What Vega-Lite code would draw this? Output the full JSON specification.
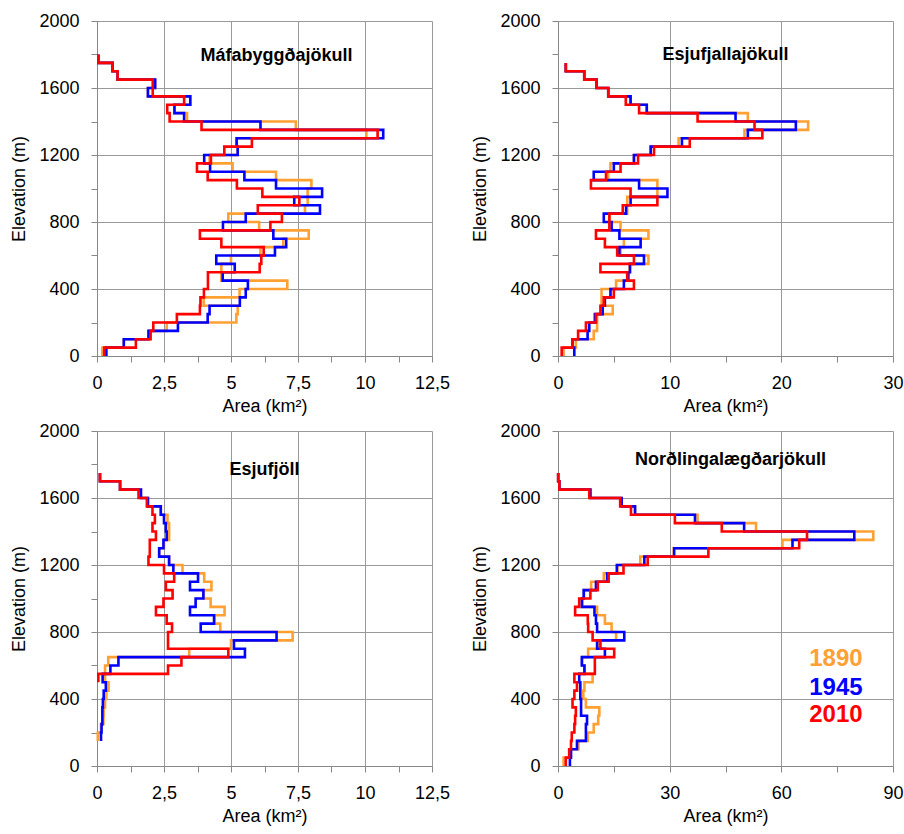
{
  "$schema": "https://vega.github.io/schema/vega-lite/v6.json",
  "padding": {"left": 10, "top": 12, "right": 5, "bottom": 5},
  "background": "white",
  "config": {
    "font": "Liberation Sans",
    "view": {"stroke": null},
    "axis": {"labelFontSize": 18, "titleFontSize": 18, "titleFontWeight": "normal", "labelColor": "#000", "titleColor": "#000", "gridColor": "#999", "domainColor": "#888", "tickColor": "#888", "tickSize": 6, "labelOverlap": false, "labelFlush": false},
    "axisX": {"labelPadding": 12, "titlePadding": 5, "titleFontWeight": "normal"},
    "axisY": {"labelPadding": 12, "titlePadding": 10},
    "title": {"fontSize": 18, "color": "#000", "anchor": "middle", "offset": 0},
    "line": {"strokeWidth": 2.6, "interpolate": "step-before"}
  },
  "datasets": {
    "mafa": [
      {"year":"1890","elev":0,"area":0.2},{"year":"1890","elev":50,"area":1.0},{"year":"1890","elev":100,"area":1.95},{"year":"1890","elev":150,"area":2.6},{"year":"1890","elev":200,"area":5.2},{"year":"1890","elev":250,"area":5.25},{"year":"1890","elev":300,"area":3.98},{"year":"1890","elev":350,"area":5.32},{"year":"1890","elev":400,"area":7.1},{"year":"1890","elev":450,"area":4.64},{"year":"1890","elev":500,"area":4.64},{"year":"1890","elev":550,"area":5.0},{"year":"1890","elev":600,"area":6.1},{"year":"1890","elev":650,"area":6.95},{"year":"1890","elev":700,"area":7.9},{"year":"1890","elev":750,"area":6.05},{"year":"1890","elev":800,"area":4.9},{"year":"1890","elev":850,"area":7.76},{"year":"1890","elev":900,"area":7.86},{"year":"1890","elev":950,"area":7.86},{"year":"1890","elev":1000,"area":8.0},{"year":"1890","elev":1050,"area":6.68},{"year":"1890","elev":1100,"area":5.06},{"year":"1890","elev":1150,"area":4.2},{"year":"1890","elev":1200,"area":5.25},{"year":"1890","elev":1250,"area":5.21},{"year":"1890","elev":1300,"area":10.05},{"year":"1890","elev":1350,"area":7.42},{"year":"1890","elev":1400,"area":3.36},{"year":"1890","elev":1450,"area":2.89},{"year":"1890","elev":1500,"area":3.48},{"year":"1890","elev":1550,"area":1.9},{"year":"1890","elev":1600,"area":2.17},{"year":"1890","elev":1650,"area":0.77},{"year":"1890","elev":1700,"area":0.58},{"year":"1890","elev":1750,"area":0.05},{"year":"1890","elev":1800,"area":0.05},
      {"year":"1945","elev":0,"area":0.35},{"year":"1945","elev":50,"area":1.0},{"year":"1945","elev":100,"area":1.92},{"year":"1945","elev":150,"area":3.02},{"year":"1945","elev":200,"area":4.13},{"year":"1945","elev":250,"area":4.2},{"year":"1945","elev":300,"area":5.33},{"year":"1945","elev":350,"area":5.55},{"year":"1945","elev":400,"area":5.63},{"year":"1945","elev":450,"area":4.69},{"year":"1945","elev":500,"area":5.14},{"year":"1945","elev":550,"area":4.45},{"year":"1945","elev":600,"area":6.64},{"year":"1945","elev":650,"area":7.06},{"year":"1945","elev":700,"area":6.58},{"year":"1945","elev":750,"area":4.7},{"year":"1945","elev":800,"area":5.55},{"year":"1945","elev":850,"area":8.32},{"year":"1945","elev":900,"area":7.36},{"year":"1945","elev":950,"area":8.4},{"year":"1945","elev":1000,"area":6.68},{"year":"1945","elev":1050,"area":5.5},{"year":"1945","elev":1100,"area":4.22},{"year":"1945","elev":1150,"area":4.0},{"year":"1945","elev":1200,"area":5.25},{"year":"1945","elev":1250,"area":5.21},{"year":"1945","elev":1300,"area":10.68},{"year":"1945","elev":1350,"area":6.1},{"year":"1945","elev":1400,"area":3.25},{"year":"1945","elev":1450,"area":2.89},{"year":"1945","elev":1500,"area":3.48},{"year":"1945","elev":1550,"area":1.9},{"year":"1945","elev":1600,"area":2.17},{"year":"1945","elev":1650,"area":0.77},{"year":"1945","elev":1700,"area":0.58},{"year":"1945","elev":1750,"area":0.05},{"year":"1945","elev":1800,"area":0.05},
      {"year":"2010","elev":0,"area":0.27},{"year":"2010","elev":50,"area":1.45},{"year":"2010","elev":100,"area":2.0},{"year":"2010","elev":150,"area":2.1},{"year":"2010","elev":200,"area":2.98},{"year":"2010","elev":250,"area":3.84},{"year":"2010","elev":300,"area":3.86},{"year":"2010","elev":350,"area":3.99},{"year":"2010","elev":400,"area":4.14},{"year":"2010","elev":450,"area":4.14},{"year":"2010","elev":500,"area":6.07},{"year":"2010","elev":550,"area":6.13},{"year":"2010","elev":600,"area":6.22},{"year":"2010","elev":650,"area":4.64},{"year":"2010","elev":700,"area":3.84},{"year":"2010","elev":750,"area":6.47},{"year":"2010","elev":800,"area":6.9},{"year":"2010","elev":850,"area":6.0},{"year":"2010","elev":900,"area":7.55},{"year":"2010","elev":950,"area":6.17},{"year":"2010","elev":1000,"area":5.22},{"year":"2010","elev":1050,"area":4.13},{"year":"2010","elev":1100,"area":3.73},{"year":"2010","elev":1150,"area":4.25},{"year":"2010","elev":1200,"area":4.75},{"year":"2010","elev":1250,"area":5.78},{"year":"2010","elev":1300,"area":10.47},{"year":"2010","elev":1350,"area":3.9},{"year":"2010","elev":1400,"area":2.71},{"year":"2010","elev":1450,"area":2.62},{"year":"2010","elev":1500,"area":3.25},{"year":"2010","elev":1550,"area":2.08},{"year":"2010","elev":1600,"area":2.08},{"year":"2010","elev":1650,"area":0.77},{"year":"2010","elev":1700,"area":0.58},{"year":"2010","elev":1750,"area":0.05},{"year":"2010","elev":1800,"area":0.05}
    ],
    "esjuj": [
      {"year":"1890","elev":0,"area":0.5},{"year":"1890","elev":50,"area":1.6},{"year":"1890","elev":100,"area":3.2},{"year":"1890","elev":150,"area":3.5},{"year":"1890","elev":200,"area":3.5},{"year":"1890","elev":250,"area":4.9},{"year":"1890","elev":300,"area":3.9},{"year":"1890","elev":350,"area":3.9},{"year":"1890","elev":400,"area":5.2},{"year":"1890","elev":450,"area":6.2},{"year":"1890","elev":500,"area":6.4},{"year":"1890","elev":550,"area":8.1},{"year":"1890","elev":600,"area":5.6},{"year":"1890","elev":650,"area":5.9},{"year":"1890","elev":700,"area":8.1},{"year":"1890","elev":750,"area":5.6},{"year":"1890","elev":800,"area":4.6},{"year":"1890","elev":850,"area":6.2},{"year":"1890","elev":900,"area":6.2},{"year":"1890","elev":950,"area":8.9},{"year":"1890","elev":1000,"area":8.9},{"year":"1890","elev":1050,"area":4.5},{"year":"1890","elev":1100,"area":4.7},{"year":"1890","elev":1150,"area":6.8},{"year":"1890","elev":1200,"area":8.3},{"year":"1890","elev":1250,"area":10.8},{"year":"1890","elev":1300,"area":16.7},{"year":"1890","elev":1350,"area":22.4},{"year":"1890","elev":1400,"area":17.0},{"year":"1890","elev":1450,"area":7.95},{"year":"1890","elev":1500,"area":6.5},{"year":"1890","elev":1550,"area":4.5},{"year":"1890","elev":1600,"area":3.45},{"year":"1890","elev":1650,"area":2.35},{"year":"1890","elev":1700,"area":0.7},{"year":"1890","elev":1750,"area":0.7},
      {"year":"1945","elev":0,"area":1.46},{"year":"1945","elev":50,"area":1.3},{"year":"1945","elev":100,"area":2.65},{"year":"1945","elev":150,"area":2.8},{"year":"1945","elev":200,"area":3.3},{"year":"1945","elev":250,"area":4.0},{"year":"1945","elev":300,"area":4.2},{"year":"1945","elev":350,"area":4.7},{"year":"1945","elev":400,"area":5.9},{"year":"1945","elev":450,"area":6.3},{"year":"1945","elev":500,"area":6.45},{"year":"1945","elev":550,"area":7.7},{"year":"1945","elev":600,"area":5.5},{"year":"1945","elev":650,"area":7.4},{"year":"1945","elev":700,"area":5.5},{"year":"1945","elev":750,"area":4.8},{"year":"1945","elev":800,"area":4.1},{"year":"1945","elev":850,"area":6.1},{"year":"1945","elev":900,"area":6.5},{"year":"1945","elev":950,"area":9.8},{"year":"1945","elev":1000,"area":7.26},{"year":"1945","elev":1050,"area":3.2},{"year":"1945","elev":1100,"area":5.0},{"year":"1945","elev":1150,"area":6.8},{"year":"1945","elev":1200,"area":8.3},{"year":"1945","elev":1250,"area":11.1},{"year":"1945","elev":1300,"area":17.0},{"year":"1945","elev":1350,"area":21.3},{"year":"1945","elev":1400,"area":15.9},{"year":"1945","elev":1450,"area":7.95},{"year":"1945","elev":1500,"area":6.5},{"year":"1945","elev":1550,"area":4.5},{"year":"1945","elev":1600,"area":3.45},{"year":"1945","elev":1650,"area":2.35},{"year":"1945","elev":1700,"area":0.7},{"year":"1945","elev":1750,"area":0.7},
      {"year":"2010","elev":0,"area":0.33},{"year":"2010","elev":50,"area":1.3},{"year":"2010","elev":100,"area":1.8},{"year":"2010","elev":150,"area":2.5},{"year":"2010","elev":200,"area":3.4},{"year":"2010","elev":250,"area":3.8},{"year":"2010","elev":300,"area":4.1},{"year":"2010","elev":350,"area":5.0},{"year":"2010","elev":400,"area":6.8},{"year":"2010","elev":450,"area":6.2},{"year":"2010","elev":500,"area":3.8},{"year":"2010","elev":550,"area":6.8},{"year":"2010","elev":600,"area":5.3},{"year":"2010","elev":650,"area":4.2},{"year":"2010","elev":700,"area":3.4},{"year":"2010","elev":750,"area":4.6},{"year":"2010","elev":800,"area":4.6},{"year":"2010","elev":850,"area":5.8},{"year":"2010","elev":900,"area":8.9},{"year":"2010","elev":950,"area":6.5},{"year":"2010","elev":1000,"area":2.95},{"year":"2010","elev":1050,"area":4.3},{"year":"2010","elev":1100,"area":5.6},{"year":"2010","elev":1150,"area":7.17},{"year":"2010","elev":1200,"area":8.6},{"year":"2010","elev":1250,"area":11.8},{"year":"2010","elev":1300,"area":18.3},{"year":"2010","elev":1350,"area":17.6},{"year":"2010","elev":1400,"area":12.5},{"year":"2010","elev":1450,"area":7.26},{"year":"2010","elev":1500,"area":6.07},{"year":"2010","elev":1550,"area":4.5},{"year":"2010","elev":1600,"area":3.45},{"year":"2010","elev":1650,"area":2.35},{"year":"2010","elev":1700,"area":0.7},{"year":"2010","elev":1750,"area":0.7}
    ],
    "esjuf": [
      {"year":"1890","elev":150,"area":0.03},{"year":"1890","elev":200,"area":0.15},{"year":"1890","elev":250,"area":0.24},{"year":"1890","elev":300,"area":0.25},{"year":"1890","elev":350,"area":0.3},{"year":"1890","elev":400,"area":0.35},{"year":"1890","elev":450,"area":0.43},{"year":"1890","elev":500,"area":0.3},{"year":"1890","elev":550,"area":0.3},{"year":"1890","elev":600,"area":0.42},{"year":"1890","elev":650,"area":3.44},{"year":"1890","elev":700,"area":5.0},{"year":"1890","elev":750,"area":7.3},{"year":"1890","elev":800,"area":4.6},{"year":"1890","elev":850,"area":4.37},{"year":"1890","elev":900,"area":4.76},{"year":"1890","elev":950,"area":4.24},{"year":"1890","elev":1000,"area":3.97},{"year":"1890","elev":1050,"area":4.27},{"year":"1890","elev":1100,"area":4.0},{"year":"1890","elev":1150,"area":3.19},{"year":"1890","elev":1200,"area":2.69},{"year":"1890","elev":1250,"area":2.32},{"year":"1890","elev":1300,"area":2.5},{"year":"1890","elev":1350,"area":2.69},{"year":"1890","elev":1400,"area":2.69},{"year":"1890","elev":1450,"area":2.63},{"year":"1890","elev":1500,"area":2.38},{"year":"1890","elev":1550,"area":1.9},{"year":"1890","elev":1600,"area":1.64},{"year":"1890","elev":1650,"area":0.86},{"year":"1890","elev":1700,"area":0.11},{"year":"1890","elev":1750,"area":0.11},
      {"year":"1945","elev":150,"area":0.15},{"year":"1945","elev":200,"area":0.17},{"year":"1945","elev":250,"area":0.2},{"year":"1945","elev":300,"area":0.2},{"year":"1945","elev":350,"area":0.22},{"year":"1945","elev":400,"area":0.25},{"year":"1945","elev":450,"area":0.33},{"year":"1945","elev":500,"area":0.21},{"year":"1945","elev":550,"area":0.5},{"year":"1945","elev":600,"area":0.8},{"year":"1945","elev":650,"area":5.52},{"year":"1945","elev":700,"area":5.11},{"year":"1945","elev":750,"area":6.7},{"year":"1945","elev":800,"area":3.87},{"year":"1945","elev":850,"area":4.37},{"year":"1945","elev":900,"area":3.47},{"year":"1945","elev":950,"area":3.68},{"year":"1945","elev":1000,"area":3.97},{"year":"1945","elev":1050,"area":3.47},{"year":"1945","elev":1100,"area":3.77},{"year":"1945","elev":1150,"area":2.85},{"year":"1945","elev":1200,"area":2.69},{"year":"1945","elev":1250,"area":2.32},{"year":"1945","elev":1300,"area":2.48},{"year":"1945","elev":1350,"area":2.6},{"year":"1945","elev":1400,"area":2.57},{"year":"1945","elev":1450,"area":2.5},{"year":"1945","elev":1500,"area":2.38},{"year":"1945","elev":1550,"area":1.9},{"year":"1945","elev":1600,"area":1.64},{"year":"1945","elev":1650,"area":0.86},{"year":"1945","elev":1700,"area":0.11},{"year":"1945","elev":1750,"area":0.11},
      {"year":"2010","elev":500,"area":0.05},{"year":"2010","elev":550,"area":2.65},{"year":"2010","elev":600,"area":3.15},{"year":"2010","elev":650,"area":4.9},{"year":"2010","elev":700,"area":2.65},{"year":"2010","elev":750,"area":2.65},{"year":"2010","elev":800,"area":2.8},{"year":"2010","elev":850,"area":2.6},{"year":"2010","elev":900,"area":2.2},{"year":"2010","elev":950,"area":2.48},{"year":"2010","elev":1000,"area":2.82},{"year":"2010","elev":1050,"area":2.57},{"year":"2010","elev":1100,"area":2.88},{"year":"2010","elev":1150,"area":2.5},{"year":"2010","elev":1200,"area":1.92},{"year":"2010","elev":1250,"area":1.97},{"year":"2010","elev":1300,"area":1.97},{"year":"2010","elev":1350,"area":2.2},{"year":"2010","elev":1400,"area":2.07},{"year":"2010","elev":1450,"area":2.16},{"year":"2010","elev":1500,"area":2.07},{"year":"2010","elev":1550,"area":1.86},{"year":"2010","elev":1600,"area":1.55},{"year":"2010","elev":1650,"area":0.86},{"year":"2010","elev":1700,"area":0.11},{"year":"2010","elev":1750,"area":0.11}
    ],
    "nord": [
      {"year":"1890","elev":0,"area":1.5},{"year":"1890","elev":50,"area":3.3},{"year":"1890","elev":100,"area":5.5},{"year":"1890","elev":150,"area":8.0},{"year":"1890","elev":200,"area":9.6},{"year":"1890","elev":250,"area":10.8},{"year":"1890","elev":300,"area":11.1},{"year":"1890","elev":350,"area":7.5},{"year":"1890","elev":400,"area":6.8},{"year":"1890","elev":450,"area":7.1},{"year":"1890","elev":500,"area":9.3},{"year":"1890","elev":550,"area":7.1},{"year":"1890","elev":600,"area":6.5},{"year":"1890","elev":650,"area":8.1},{"year":"1890","elev":700,"area":10.8},{"year":"1890","elev":750,"area":15.6},{"year":"1890","elev":800,"area":14.4},{"year":"1890","elev":850,"area":12.6},{"year":"1890","elev":900,"area":10.5},{"year":"1890","elev":950,"area":6.6},{"year":"1890","elev":1000,"area":7.0},{"year":"1890","elev":1050,"area":8.9},{"year":"1890","elev":1100,"area":12.3},{"year":"1890","elev":1150,"area":16.0},{"year":"1890","elev":1200,"area":22.1},{"year":"1890","elev":1250,"area":31.1},{"year":"1890","elev":1300,"area":60.3},{"year":"1890","elev":1350,"area":84.7},{"year":"1890","elev":1400,"area":53.2},{"year":"1890","elev":1450,"area":37.5},{"year":"1890","elev":1500,"area":20.7},{"year":"1890","elev":1550,"area":17.1},{"year":"1890","elev":1600,"area":8.7},{"year":"1890","elev":1650,"area":0.36},{"year":"1890","elev":1700,"area":0.05},{"year":"1890","elev":1750,"area":0.05},
      {"year":"1945","elev":0,"area":3.2},{"year":"1945","elev":50,"area":3.5},{"year":"1945","elev":100,"area":5.1},{"year":"1945","elev":150,"area":7.5},{"year":"1945","elev":200,"area":7.5},{"year":"1945","elev":250,"area":7.8},{"year":"1945","elev":300,"area":6.2},{"year":"1945","elev":350,"area":6.2},{"year":"1945","elev":400,"area":6.0},{"year":"1945","elev":450,"area":6.0},{"year":"1945","elev":500,"area":5.7},{"year":"1945","elev":550,"area":7.1},{"year":"1945","elev":600,"area":6.4},{"year":"1945","elev":650,"area":12.6},{"year":"1945","elev":700,"area":10.5},{"year":"1945","elev":750,"area":17.8},{"year":"1945","elev":800,"area":10.5},{"year":"1945","elev":850,"area":10.2},{"year":"1945","elev":900,"area":9.8},{"year":"1945","elev":950,"area":6.4},{"year":"1945","elev":1000,"area":6.9},{"year":"1945","elev":1050,"area":10.2},{"year":"1945","elev":1100,"area":13.2},{"year":"1945","elev":1150,"area":15.8},{"year":"1945","elev":1200,"area":23.2},{"year":"1945","elev":1250,"area":31.2},{"year":"1945","elev":1300,"area":63.0},{"year":"1945","elev":1350,"area":79.6},{"year":"1945","elev":1400,"area":50.0},{"year":"1945","elev":1450,"area":36.8},{"year":"1945","elev":1500,"area":20.7},{"year":"1945","elev":1550,"area":17.1},{"year":"1945","elev":1600,"area":8.7},{"year":"1945","elev":1650,"area":0.36},{"year":"1945","elev":1700,"area":0.05},{"year":"1945","elev":1750,"area":0.05},
      {"year":"2010","elev":0,"area":2.1},{"year":"2010","elev":50,"area":3.0},{"year":"2010","elev":100,"area":3.5},{"year":"2010","elev":150,"area":3.7},{"year":"2010","elev":200,"area":4.4},{"year":"2010","elev":250,"area":4.6},{"year":"2010","elev":300,"area":4.8},{"year":"2010","elev":350,"area":3.9},{"year":"2010","elev":400,"area":4.4},{"year":"2010","elev":450,"area":5.1},{"year":"2010","elev":500,"area":4.4},{"year":"2010","elev":550,"area":9.9},{"year":"2010","elev":600,"area":9.9},{"year":"2010","elev":650,"area":15.1},{"year":"2010","elev":700,"area":11.4},{"year":"2010","elev":750,"area":9.3},{"year":"2010","elev":800,"area":8.1},{"year":"2010","elev":850,"area":8.0},{"year":"2010","elev":900,"area":4.6},{"year":"2010","elev":950,"area":5.7},{"year":"2010","elev":1000,"area":8.7},{"year":"2010","elev":1050,"area":10.7},{"year":"2010","elev":1100,"area":13.6},{"year":"2010","elev":1150,"area":17.6},{"year":"2010","elev":1200,"area":24.1},{"year":"2010","elev":1250,"area":40.4},{"year":"2010","elev":1300,"area":64.8},{"year":"2010","elev":1350,"area":66.9},{"year":"2010","elev":1400,"area":44.0},{"year":"2010","elev":1450,"area":31.4},{"year":"2010","elev":1500,"area":19.6},{"year":"2010","elev":1550,"area":16.7},{"year":"2010","elev":1600,"area":8.4},{"year":"2010","elev":1650,"area":0.36},{"year":"2010","elev":1700,"area":0.05},{"year":"2010","elev":1750,"area":0.05}
    ]
  },
  "spacing": 7,
  "vconcat": [
    {
      "spacing": 126,
      "bounds": "flush",
      "hconcat": [
        {
          "width": 335, "height": 335,
          "title": {"text": "Máfabyggðajökull", "fontWeight": "bold", "dy": 57, "dx": 12},
          "data": {"name": "mafa"},
          "mark": {"type": "line"},
          "encoding": {
            "x": {"field": "area", "type": "quantitative", "scale": {"domain": [0, 12.5], "nice": false},
                  "axis": {"title": "Area (km²)", "values": [0,1.25,2.5,3.75,5,6.25,7.5,8.75,10,11.25,12.5],
                           "labelExpr": "datum.value % 2.5 == 0 ? replace(format(datum.value, '~g'), '.', ',') : ''",
                           "gridOpacity": {"condition": {"test": "datum.value % 2.5 == 0", "value": 1}, "value": 0}}},
            "y": {"field": "elev", "type": "quantitative", "scale": {"domain": [0, 2000], "nice": false},
                  "axis": {"title": "Elevation (m)", "values": [0,200,400,600,800,1000,1200,1400,1600,1800,2000], "format": "d",
                           "labelExpr": "datum.value % 400 == 0 ? datum.label : ''",
                           "gridOpacity": {"condition": {"test": "datum.value % 400 == 0", "value": 1}, "value": 0}}},
            "color": {"field": "year", "type": "nominal", "scale": {"domain": ["1890","1945","2010"], "range": ["#FFA033","#0000FF","#FF0000"]}, "legend": null},
            "order": {"field": "elev"}
          }
        },
        {
          "width": 335, "height": 335,
          "title": {"text": "Esjufjallajökull", "fontWeight": "bold", "dy": 56},
          "data": {"name": "esjuj"},
          "mark": {"type": "line"},
          "encoding": {
            "x": {"field": "area", "type": "quantitative", "scale": {"domain": [0, 30], "nice": false},
                  "axis": {"title": "Area (km²)", "values": [0,5,10,15,20,25,30],
                           "labelExpr": "datum.value % 10 == 0 ? datum.label : ''",
                           "gridOpacity": {"condition": {"test": "datum.value % 10 == 0", "value": 1}, "value": 0}}},
            "y": {"field": "elev", "type": "quantitative", "scale": {"domain": [0, 2000], "nice": false},
                  "axis": {"title": "Elevation (m)", "values": [0,200,400,600,800,1000,1200,1400,1600,1800,2000], "format": "d",
                           "labelExpr": "datum.value % 400 == 0 ? datum.label : ''",
                           "gridOpacity": {"condition": {"test": "datum.value % 400 == 0", "value": 1}, "value": 0}}},
            "color": {"field": "year", "type": "nominal", "scale": {"domain": ["1890","1945","2010"], "range": ["#FFA033","#0000FF","#FF0000"]}, "legend": null},
            "order": {"field": "elev"}
          }
        }
      ]
    },
    {
      "spacing": 126,
      "bounds": "flush",
      "hconcat": [
        {
          "width": 335, "height": 335,
          "title": {"text": "Esjufjöll", "fontWeight": "bold", "dy": 61},
          "data": {"name": "esjuf"},
          "mark": {"type": "line"},
          "encoding": {
            "x": {"field": "area", "type": "quantitative", "scale": {"domain": [0, 12.5], "nice": false},
                  "axis": {"title": "Area (km²)", "values": [0,1.25,2.5,3.75,5,6.25,7.5,8.75,10,11.25,12.5],
                           "labelExpr": "datum.value % 2.5 == 0 ? replace(format(datum.value, '~g'), '.', ',') : ''",
                           "gridOpacity": {"condition": {"test": "datum.value % 2.5 == 0", "value": 1}, "value": 0}}},
            "y": {"field": "elev", "type": "quantitative", "scale": {"domain": [0, 2000], "nice": false},
                  "axis": {"title": "Elevation (m)", "values": [0,200,400,600,800,1000,1200,1400,1600,1800,2000], "format": "d",
                           "labelExpr": "datum.value % 400 == 0 ? datum.label : ''",
                           "gridOpacity": {"condition": {"test": "datum.value % 400 == 0", "value": 1}, "value": 0}}},
            "color": {"field": "year", "type": "nominal", "scale": {"domain": ["1890","1945","2010"], "range": ["#FFA033","#0000FF","#FF0000"]}, "legend": null},
            "order": {"field": "elev"}
          }
        },
        {
          "width": 335, "height": 335,
          "title": {"text": "Norðlingalægðarjökull", "fontWeight": "bold", "dy": 51, "dx": 5},
          "layer": [
            {
              "data": {"name": "nord"},
              "mark": {"type": "line"},
              "encoding": {
                "x": {"field": "area", "type": "quantitative", "scale": {"domain": [0, 90], "nice": false},
                      "axis": {"title": "Area (km²)", "values": [0,15,30,45,60,75,90],
                               "labelExpr": "datum.value % 30 == 0 ? datum.label : ''",
                               "gridOpacity": {"condition": {"test": "datum.value % 30 == 0", "value": 1}, "value": 0}}},
                "y": {"field": "elev", "type": "quantitative", "scale": {"domain": [0, 2000], "nice": false},
                      "axis": {"title": "Elevation (m)", "values": [0,200,400,600,800,1000,1200,1400,1600,1800,2000], "format": "d",
                               "labelExpr": "datum.value % 400 == 0 ? datum.label : ''",
                               "gridOpacity": {"condition": {"test": "datum.value % 400 == 0", "value": 1}, "value": 0}}},
                "color": {"field": "year", "type": "nominal", "scale": {"domain": ["1890","1945","2010"], "range": ["#FFA033","#0000FF","#FF0000"]}, "legend": null},
                "order": {"field": "elev"}
              }
            },
            {
              "data": {"values": [{"year": "1890"}]},
              "mark": {"type": "text", "align": "left", "baseline": "middle", "fontSize": 24, "fontWeight": "bold"},
              "encoding": {"x": {"datum": 67.5}, "y": {"datum": 640}, "text": {"field": "year"}, "color": {"field": "year", "type": "nominal", "legend": null}}
            },
            {
              "data": {"values": [{"year": "1945"}]},
              "mark": {"type": "text", "align": "left", "baseline": "middle", "fontSize": 24, "fontWeight": "bold"},
              "encoding": {"x": {"datum": 67.5}, "y": {"datum": 466}, "text": {"field": "year"}, "color": {"field": "year", "type": "nominal", "legend": null}}
            },
            {
              "data": {"values": [{"year": "2010"}]},
              "mark": {"type": "text", "align": "left", "baseline": "middle", "fontSize": 24, "fontWeight": "bold"},
              "encoding": {"x": {"datum": 67.5}, "y": {"datum": 304}, "text": {"field": "year"}, "color": {"field": "year", "type": "nominal", "legend": null}}
            }
          ]
        }
      ]
    }
  ]
}
